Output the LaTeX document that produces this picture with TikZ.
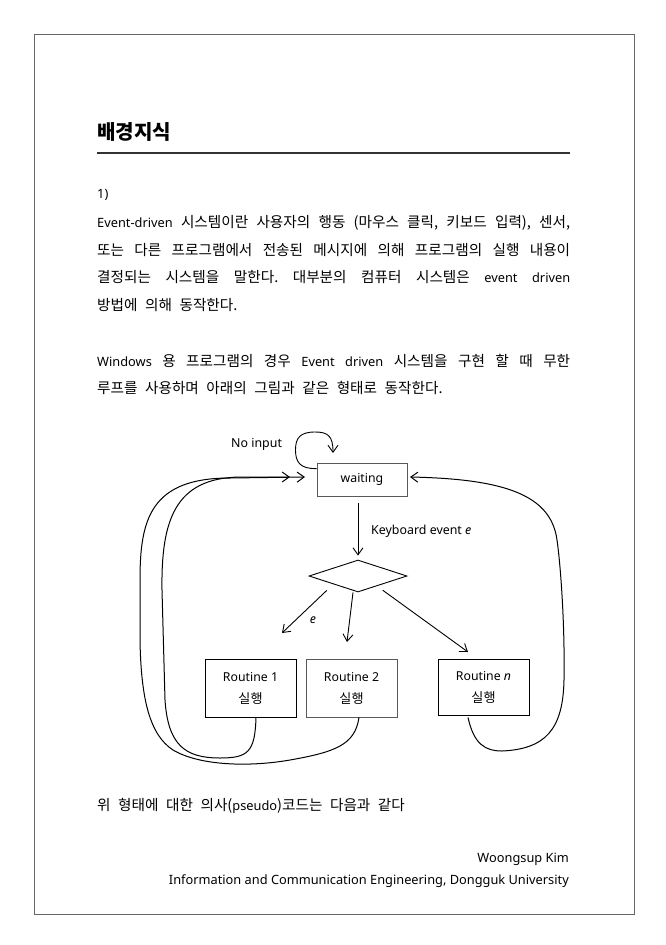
\documentclass[tikz,border=0pt]{standalone}
\usepackage{fontspec}
\setmainfont{Noto Sans CJK KR}[Scale=1.143, WordSpace=2.3]
\newfontfamily\la{Noto Sans}
\usetikzlibrary{arrows.meta,shapes.geometric,calc}
\tikzset{
  frame/.style={draw=black!60, line width=1pt},
  body/.style={anchor=base west, inner sep=0pt, font=\fontsize{12.8}{14}\selectfont},
  lbl/.style={inner sep=0pt, font=\fontsize{12.4}{15}\selectfont\la},
  box/.style={draw=#1, line width=0.9pt, inner sep=0pt, align=center, font=\fontsize{12.3}{22}\selectfont},
  arr/.style={-{Straight Barb[length=7pt,width=10pt]}, line width=0.9pt},
  ret/.style={arr, line width=1pt},
}
\newcommand{\kr}[1]{{\fontsize{11.45}{22}\selectfont #1}}
\begin{document}
\frenchspacing
\begin{tikzpicture}[x=1pt,y=-1pt]
\useasboundingbox (0,0) rectangle (665,945);
\fill[white] (0,0) rectangle (665,945);
\draw[frame] (34,34) rectangle (634,914);

% heading
\node[anchor=base west, inner sep=0pt, font=\fontsize{17.6}{20}\selectfont\bfseries] (head) at (97,139.5) {배경지식};
\draw[draw=black!80, line width=1.4pt] (97,153) -- (570,153);

% body text
\node[body] (n1) at (97,198) {{\la 1)}};
\node[body] (l1) at (97,227.5) {\makebox[473pt][s]{{\la Event-driven} 시스템이란 사용자의 행동 (마우스 클릭, 키보드 입력), 센서,}};
\node[body] (l2) at (97,255.2) {\makebox[473pt][s]{또는 다른 프로그램에서 전송된 메시지에 의해 프로그램의 실행 내용이}};
\node[body] (l3) at (97,282.9) {\makebox[473pt][s]{결정되는 시스템을 말한다. 대부분의 컴퓨터 시스템은 {\la event} {\la driven}}};
\node[body] (l4) at (97,310.6) {방법에 의해 동작한다.};
\node[body] (w1) at (97,366) {\makebox[473pt][s]{{\la Windows} 용 프로그램의 경우 {\la Event} {\la driven} 시스템을 구현 할 때 무한}};
\node[body] (w2) at (97,393.7) {루프를 사용하며 아래의 그림과 같은 형태로 동작한다.};

% diagram
\node[box=black!65, minimum width=90pt, minimum height=33pt] (wt) at (362,479.5) {\la waiting};
\node[diamond, draw, line width=0.9pt, minimum width=98pt, minimum height=32pt, inner sep=0pt] (dm) at (358,576) {};
\node[box=black, minimum width=91pt, minimum height=58pt] (r1) at (250.5,688) {{\la Routine 1}\\\kr{실행}};
\node[box=black!65, minimum width=91pt, minimum height=58pt] (r2) at (351.5,688) {{\la Routine 2}\\\kr{실행}};
\node[box=black, minimum width=91pt, minimum height=56pt] (rn) at (483.5,687) {{\la Routine \itshape n}\\\kr{실행}};

\node[lbl, anchor=base west] (noin) at (231,447) {No input};
\node[lbl, anchor=base west] (kb) at (371,534) {Keyboard event \itshape e};
\node[lbl, anchor=base] (el) at (313,623.5) {\itshape e};

% self loop
\coordinate (ls) at ($(wt.north west)+(0,6)$);
\coordinate (le) at (333,453);
\draw[arr] (ls) .. controls (300,469) and (295.5,462) .. (295.5,450)
  .. controls (295.5,438) and (300,432) .. (315,432)
  .. controls (328,432) and (333,436) .. (le);

% waiting -> diamond
\draw[arr, shorten <=7pt, shorten >=4pt] (dm.north |- wt.south) -- (dm.north);

% diamond -> routines
\coordinate (t1) at (282,633);
\coordinate (t2) at (347,642);
\coordinate (t3) at (468,652);
\draw[arr, shorten <=9pt] (dm.south west) -- (t1);
\draw[arr] ($(dm.south)+(-5,0)$) -- (t2);
\draw[arr] ($(dm.south east)+(0,6)$) -- (t3);

% return curves
\coordinate (a1) at (290,477);
\coordinate (a2) at (305,477);
\coordinate (a3) at (410,477);
\draw[ret] ($(r1.south)+(5.5,0)$) .. controls (255,752) and (248,758) .. (220,758)
  .. controls (185,758) and (168,745) .. (165,700)
  -- (162,590)
  .. controls (161,520) and (175,478) .. (240,477) -- (a1);
\draw[ret] ($(r2.south)+(7.5,0)$) .. controls (355,745) and (335,752) .. (290,760)
  .. controls (250,767) and (200,766) .. (173,750)
  .. controls (150,735) and (141,700) .. (140,640)
  -- (140,580)
  .. controls (140,520) and (150,478) .. (230,478) -- (a2);
\draw[ret] ($(rn.south)+(-15.5,2)$) .. controls (474,745) and (486,751) .. (502,751)
  .. controls (545,749) and (563,730) .. (564,680)
  .. controls (565,620) and (560,560) .. (557,540)
  .. controls (551,495) and (505,479) .. (a3);

% lower text
\node[body] (ps) at (97,810.5) {위 형태에 대한 의사({\la pseudo})코드는 다음과 같다};
\node[body, anchor=base east, font=\fontsize{12.8}{14}\selectfont\la] (au) at (569,862) {Woongsup Kim};
\node[body, anchor=base east, font=\fontsize{12.8}{14}\selectfont\la] (af) at (569,884.5) {Information and Communication Engineering, Dongguk University};
\end{tikzpicture}
\end{document}
